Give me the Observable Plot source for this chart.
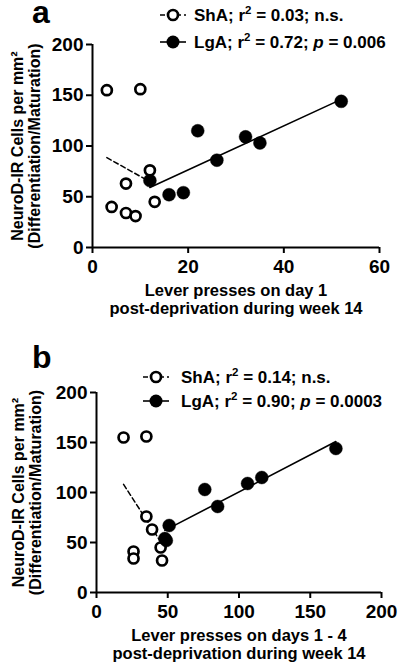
<!DOCTYPE html>
<html><head><meta charset="utf-8">
<script src="https://cdn.jsdelivr.net/npm/d3@7"></script>
<script src="https://cdn.jsdelivr.net/npm/@observablehq/plot@0.6"></script>
<style>
body{margin:0;background:#fff;}
#wrap{position:relative;width:400px;height:664px;overflow:hidden;}
.panel{position:absolute;left:0;width:400px;}
.panel svg{display:block;}
#overlay{position:absolute;left:0;top:0;pointer-events:none;}
</style></head>
<body>
<div id="wrap"><div id="pa" class="panel" style="top:0"></div><div id="pb" class="panel" style="top:330px"></div></div>
<script>
// ---- data ----
const shaA_x = [3, 10, 12, 7, 4, 7, 9, 13];
const shaA_y = [155, 156, 76, 63, 40, 34, 31, 45];
const lgaA_x = [12, 16, 19, 22, 26, 32, 35, 52];
const lgaA_y = [66, 52, 54, 115, 86, 109, 103, 144];
const shaB_x = [19, 35, 35, 39, 26, 26, 45, 46];
const shaB_y = [155, 156, 76, 63, 41, 34, 45, 32];
const lgaB_x = [51, 48, 49, 76, 85, 106, 116, 168];
const lgaB_y = [67, 54, 52, 103, 86, 109, 115, 144];
const xTicksA = [0, 20, 40, 60];
const xTicksB = [0, 50, 100, 150, 200];
const yTicks = [0, 50, 100, 150, 200];
const yLabel = ["NeuroD-IR Cells per mm²", "(Differentiation/Maturation)"];
const xLabelA = ["Lever presses on day 1", "post-deprivation during week 14"];
const xLabelB = ["Lever presses on days 1 - 4", "post-deprivation during week 14"];
const panelLetters = ["a", "b"];
const groups = ["ShA", "LgA"];
const r2A = ["0.03", "0.72"];
const pA = ["n.s.", "0.006"];
const r2B = ["0.14", "0.90"];
const pB = ["n.s.", "0.0003"];

const FONT = "'Liberation Sans', Arial, Helvetica, sans-serif";

function panel(o) {
  const sha = o.sx.map((x, i) => ({x, y: o.sy[i]}));
  const lga = o.lx.map((x, i) => ({x, y: o.ly[i]}));
  const openDots = Plot.dot(sha, {x: "x", y: "y", r: 5, fill: "white", stroke: "black", strokeWidth: 2.7});
  const fillDots = Plot.dot(lga, {x: "x", y: "y", r: 6.5, fill: "black", stroke: "black", strokeWidth: 0.4});
  return Plot.plot({
    width: 400, height: o.height,
    marginLeft: o.ml, marginRight: o.mr, marginTop: o.mt, marginBottom: o.mb,
    style: {fontFamily: FONT, fontWeight: "bold", fontSize: "19px", background: "white", color: "black"},
    x: {domain: o.xDomain},
    y: {domain: [0, 200]},
    marks: [
      Plot.axisX({ticks: o.xTicks, tickSize: 6, tickPadding: o.tpx, strokeWidth: 2, label: null, tickFormat: d => String(d)}),
      Plot.axisY({ticks: yTicks, tickSize: 6, tickPadding: 3, strokeWidth: 2, label: null, tickFormat: d => String(d)}),
      Plot.ruleX([0], {strokeWidth: 2}),
      Plot.ruleY([0], {strokeWidth: 2}),
      Plot.linearRegressionY(sha, {x: "x", y: "y", ci: 0, stroke: "black", strokeWidth: 1.5, strokeDasharray: "5,3"}),
      Plot.linearRegressionY(lga, {x: "x", y: "y", ci: 0, stroke: "black", strokeWidth: 1.6}),
      ...(o.openOnTop ? [fillDots, openDots] : [openDots, fillDots]),
      Plot.text([o.xLabel.join("\n")], {frameAnchor: "bottom", textAnchor: "middle", lineAnchor: "bottom", dy: o.xlDy, fontSize: 16.5, lineHeight: 17.5 / 16.5, fontWeight: "bold"}),
      Plot.text([yLabel.join("\n")], {frameAnchor: "left", textAnchor: "middle", rotate: -90, dx: o.ylDx, fontSize: 16, lineHeight: 17 / 16, lineAnchor: "middle", fontWeight: "bold"})
    ]
  });
}

document.getElementById("pa").append(panel({
  sx: shaA_x, sy: shaA_y, lx: lgaA_x, ly: lgaA_y, xDomain: [0, 60], xTicks: xTicksA, xLabel: xLabelA,
  height: 330, ml: 92, mr: 21, mt: 44, mb: 83, tpx: 6, xlDy: 66, ylDx: -66, openOnTop: true
}));
document.getElementById("pb").append(panel({
  sx: shaB_x, sy: shaB_y, lx: lgaB_x, ly: lgaB_y, xDomain: [0, 200], xTicks: xTicksB, xLabel: xLabelB,
  height: 334, ml: 96, mr: 19, mt: 62, mb: 72, tpx: 6, xlDy: 66, ylDx: -69, openOnTop: false
}));

// ---- overlay: panel letters and legends ----
const ov = d3.select("#wrap").append("svg").attr("id", "overlay")
  .attr("width", 400).attr("height", 664)
  .style("font-family", FONT).style("font-weight", "bold");

const layouts = [
  {letterY: 22.5, symX: 173, rows: [15, 42], textX: 194, r2: r2A, p: pA},
  {letterY: 368, symX: 156, rows: [377, 401], textX: 181, r2: r2B, p: pB}
];
layouts.forEach((L, k) => {
  ov.append("text").attr("x", 32).attr("y", L.letterY).attr("font-size", 32).text(panelLetters[k]);
  groups.forEach((g, i) => {
    const cy = L.rows[i];
    const line = ov.append("line").attr("x1", L.symX - 13).attr("x2", L.symX + 13)
      .attr("y1", cy).attr("y2", cy).attr("stroke", "black").attr("stroke-width", 1.6);
    if (i === 0) line.attr("stroke-dasharray", "5,3");
    if (i === 0) ov.append("circle").attr("cx", L.symX).attr("cy", cy).attr("r", 5)
      .attr("fill", "white").attr("stroke", "black").attr("stroke-width", 2.7);
    else ov.append("circle").attr("cx", L.symX).attr("cy", cy).attr("r", 6.5).attr("fill", "black");
    const t = ov.append("text").attr("x", L.textX).attr("y", cy + 6).attr("font-size", 17);
    t.append("tspan").text(g + "; r");
    t.append("tspan").attr("dy", -7.5).attr("font-size", 11.5).text("2");
    t.append("tspan").attr("dy", 7.5).text(" = " + L.r2[i] + "; ");
    if (L.p[i] === "n.s.") {
      t.append("tspan").text(L.p[i]);
    } else {
      t.append("tspan").attr("font-style", "italic").text("p");
      t.append("tspan").text(" = " + L.p[i]);
    }
  });
});
</script>
</body></html>
